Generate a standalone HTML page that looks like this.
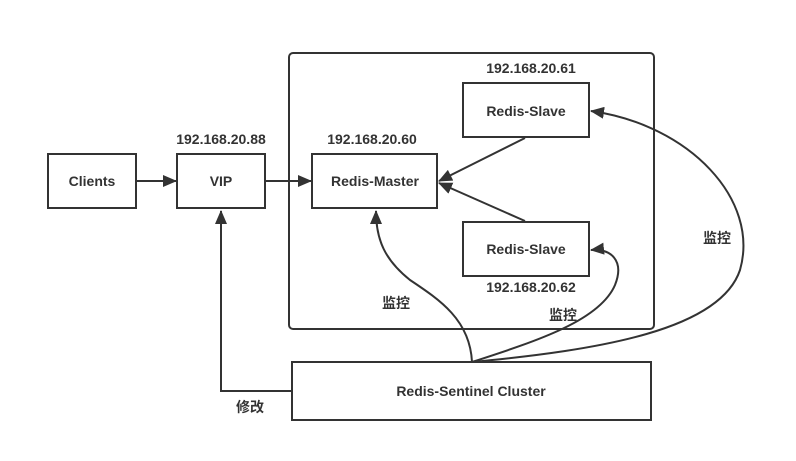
<!DOCTYPE html>
<html><head><meta charset="utf-8"><style>
body{margin:0;background:#fff}
svg text{font-family:"Liberation Sans","Noto Sans CJK SC",sans-serif;font-weight:bold;font-size:14px;fill:#333}
</style></head><body>
<svg width="796" height="456" viewBox="0 0 796 456" xmlns="http://www.w3.org/2000/svg">
<defs><marker id="b" markerWidth="14" markerHeight="12" refX="13" refY="6" orient="auto" markerUnits="userSpaceOnUse"><path d="M0,0 L14,6 L0,12 z" fill="#333"/></marker></defs>
<g fill="none" stroke="#333" stroke-width="2">
<rect x="289" y="53" width="365" height="276" rx="4"/>
<rect x="48" y="154" width="88" height="54"/>
<rect x="177" y="154" width="88" height="54"/>
<rect x="312" y="154" width="125" height="54"/>
<rect x="463" y="83" width="126" height="54"/>
<rect x="463" y="222" width="126" height="54"/>
<rect x="292" y="362" width="359" height="58"/>
<line x1="136" y1="181" x2="176" y2="181" marker-end="url(#b)"/>
<line x1="265" y1="181" x2="311" y2="181" marker-end="url(#b)"/>
<line x1="525" y1="138" x2="439" y2="181" marker-end="url(#b)"/>
<line x1="525" y1="221" x2="439" y2="183" marker-end="url(#b)"/>
<polyline points="292,391 221,391 221,211" marker-end="url(#b)"/>
<path d="M472,362 C470,320 440,300 410,280 C385,260 376,240 376,211" marker-end="url(#b)"/>
<path d="M472,362 C540,340 600,320 615,285 C625,260 610,248 591,250" marker-end="url(#b)"/>
<path d="M472,362 C600,350 720,330 740,270 C760,200 690,125 591,111" marker-end="url(#b)"/>
</g>
<g text-anchor="middle">
<text x="92" y="186">Clients</text>
<text x="221" y="186">VIP</text>
<text x="375" y="186">Redis-Master</text>
<text x="526" y="116">Redis-Slave</text>
<text x="526" y="254">Redis-Slave</text>
<text x="471" y="396">Redis-Sentinel Cluster</text>
<text x="221" y="144">192.168.20.88</text>
<text x="372" y="144">192.168.20.60</text>
<text x="531" y="73">192.168.20.61</text>
<text x="531" y="292">192.168.20.62</text>
<text x="396" y="308">监控</text>
<text x="563" y="320">监控</text>
<text x="717" y="243">监控</text>
<text x="250" y="412">修改</text>
</g>
</svg>
</body></html>
